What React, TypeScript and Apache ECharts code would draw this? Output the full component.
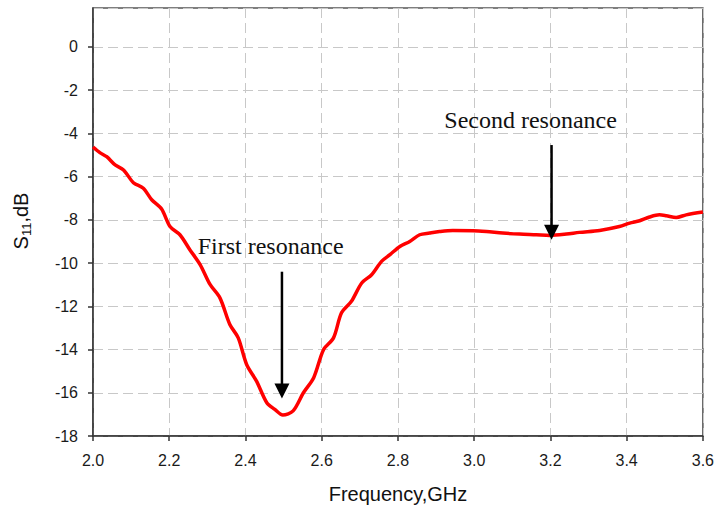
import React, { useEffect, useRef } from "react";
import * as echarts from "echarts";

const freq = [2.000, 2.018, 2.036, 2.058, 2.080, 2.106, 2.132, 2.154, 2.180, 2.202, 2.228, 2.254, 2.281, 2.307, 2.333, 2.359, 2.381, 2.403, 2.429, 2.456, 2.477, 2.498, 2.525, 2.552, 2.579, 2.605, 2.631, 2.652, 2.678, 2.705, 2.731, 2.757, 2.779, 2.805, 2.831, 2.857, 2.883, 2.909, 2.944, 2.997, 3.032, 3.075, 3.119, 3.163, 3.198, 3.242, 3.276, 3.329, 3.381, 3.408, 3.434, 3.460, 3.486, 3.504, 3.530, 3.556, 3.600];
const s11 = [-4.63, -4.89, -5.08, -5.46, -5.69, -6.28, -6.54, -7.07, -7.50, -8.31, -8.69, -9.38, -10.07, -10.99, -11.61, -12.84, -13.46, -14.69, -15.46, -16.46, -16.77, -17.03, -16.84, -16.0, -15.3, -14.0, -13.46, -12.30, -11.77, -10.92, -10.54, -9.92, -9.61, -9.23, -9.0, -8.69, -8.61, -8.54, -8.49, -8.5, -8.54, -8.61, -8.66, -8.69, -8.72, -8.66, -8.58, -8.49, -8.31, -8.15, -8.04, -7.87, -7.77, -7.81, -7.89, -7.77, -7.64];

const annotations = [
  { text: "First resonance", textAt: [2.466, -9.2], from: [2.4957, -10.4], to: [2.4957, -16.27] },
  { text: "Second resonance", textAt: [3.148, -3.4], from: [3.203, -4.54], to: [3.203, -8.92] },
];

export default function App() {
  const ref = useRef<HTMLDivElement>(null);
  useEffect(() => {
    if (!ref.current) return;
    const chart = echarts.init(ref.current, null, { renderer: "svg" });
    const sans = "Arial, 'Liberation Sans', sans-serif";
    chart.setOption({
      animation: false,
      backgroundColor: "#ffffff",
      grid: {
        left: 93, right: 14, top: 8, bottom: 75,
        show: true, borderColor: "#555555", borderWidth: 1.5, backgroundColor: "transparent",
      },
      xAxis: {
        type: "value", min: 2.0, max: 3.6, interval: 0.2,
        axisLine: { show: true, onZero: false, lineStyle: { color: "#333", width: 1.5 } },
        axisTick: { show: true, inside: false, length: 5, lineStyle: { color: "#333", width: 1.5 } },
        axisLabel: { color: "#1a1a1a", fontSize: 16, fontFamily: sans, margin: 16,
          formatter: (v: number) => v.toFixed(1) },
        splitLine: { show: true, lineStyle: { color: "#c8c8c8", type: [10, 5], width: 1 } },
      },
      yAxis: {
        type: "value", min: -18, max: 1.8, interval: 2,
        axisLine: { show: true, onZero: false, lineStyle: { color: "#333", width: 1.5 } },
        axisTick: { show: true, inside: false, length: 5, lineStyle: { color: "#333", width: 1.5 } },
        axisLabel: { color: "#1a1a1a", fontSize: 16, fontFamily: sans, margin: 15, showMaxLabel: false,
          formatter: (v: number) => (v > 0.5 ? "" : String(Math.round(v))) },
        splitLine: { show: true, lineStyle: { color: "#c8c8c8", type: [10, 5], width: 1 } },
      },
      series: [{
        type: "line",
        data: freq.map((f, i) => [f, s11[i]]),
        showSymbol: false,
        smooth: 0.3,
        lineStyle: { color: "#ff0000", width: 3.5 },
        z: 5,
      }],
    });

    const g: any[] = [];
    annotations.forEach((a) => {
      const tp = chart.convertToPixel({ gridIndex: 0 }, a.textAt) as number[];
      const p0 = chart.convertToPixel({ gridIndex: 0 }, a.from) as number[];
      const p1 = chart.convertToPixel({ gridIndex: 0 }, a.to) as number[];
      g.push({
        type: "text", x: tp[0], y: tp[1], z: 10,
        style: { text: a.text, fill: "#111", font: "24px 'Liberation Serif', 'Times New Roman', serif",
          align: "center", verticalAlign: "middle" },
      });
      g.push({
        type: "line", z: 10,
        shape: { x1: p0[0], y1: p0[1], x2: p1[0], y2: p1[1] - 12 },
        style: { stroke: "#000", lineWidth: 2.5 },
      });
      g.push({
        type: "polygon", z: 10,
        shape: { points: [[p1[0] - 7.5, p1[1] - 15], [p1[0] + 7.5, p1[1] - 15], [p1[0], p1[1]]] },
        style: { fill: "#000" },
      });
    });
    g.push({
      type: "text", x: 398, y: 494, z: 10,
      style: { text: "Frequency,GHz", fill: "#111", font: "20px Arial, 'Liberation Sans', sans-serif",
        align: "center", verticalAlign: "middle" },
    });
    g.push({
      type: "text", x: 21, y: 221, rotation: Math.PI / 2, z: 10,
      style: {
        text: "{a|S}{b|11}{a|,dB}",
        align: "center", verticalAlign: "middle",
        rich: {
          a: { fontSize: 20, fontFamily: "Arial, 'Liberation Sans', sans-serif", fill: "#111", color: "#111" },
          b: { fontSize: 13, fontFamily: "Arial, 'Liberation Sans', sans-serif", fill: "#111", color: "#111",
            padding: [10, 0, 0, 0] },
        },
      },
    });
    chart.setOption({ graphic: g });
    return () => chart.dispose();
  }, []);
  return <div ref={ref} style={{ position: "fixed", left: 0, top: 0, width: 717, height: 511 }} />;
}
